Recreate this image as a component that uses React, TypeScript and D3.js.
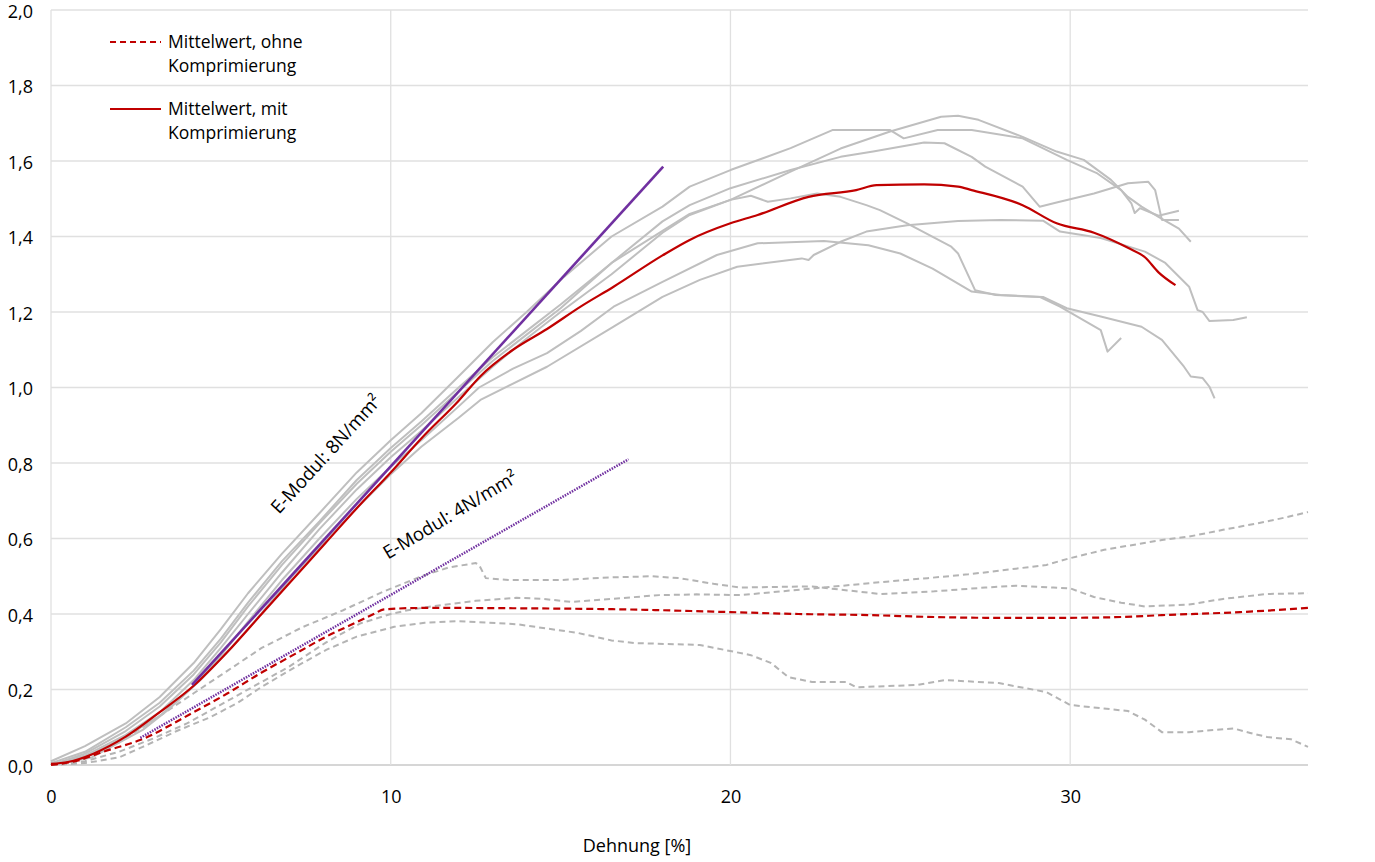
import React, { useLayoutEffect, useRef } from 'react';
import * as d3 from 'd3';

type Pt = [number, number];

// Einzelkurven, mit Komprimierung (grau, durchgezogen)
const mitA: Pt[] = [
  [0, 0.01], [1, 0.05], [2.2, 0.11], [3.2, 0.18], [4.2, 0.27], [5, 0.36], [5.8, 0.455],
  [6.8, 0.56], [7.9, 0.667], [9, 0.775], [10, 0.86], [10.9, 0.932], [12, 1.03], [13, 1.12],
  [14, 1.2], [15.1, 1.293], [16.5, 1.4], [18, 1.479], [18.8, 1.532], [20, 1.576],
  [21.77, 1.634], [23, 1.682], [24.7, 1.682], [25.1, 1.66], [26.1, 1.682], [27.1, 1.682],
  [28.6, 1.66], [29.9, 1.603], [30.8, 1.567], [31.5, 1.523], [31.8, 1.488], [31.9, 1.462],
  [32.05, 1.475], [32.6, 1.455], [33.2, 1.468],
];
const mitP: Pt[] = [
  [0, 0.005], [1, 0.035], [2.2, 0.1], [3.2, 0.165], [4.2, 0.25], [5, 0.335], [5.8, 0.43],
  [6.8, 0.54], [7.9, 0.645], [9, 0.755], [10, 0.84], [10.9, 0.91], [12, 1.0], [13, 1.08],
  [14, 1.15], [15, 1.22], [16.5, 1.33], [18, 1.415], [18.8, 1.46], [20, 1.497],
  [21.77, 1.572], [23.24, 1.633], [24.7, 1.678], [26.2, 1.717], [26.7, 1.72], [27.3, 1.709],
  [28.6, 1.664], [29.6, 1.625], [30.4, 1.603], [31.2, 1.55], [31.7, 1.505], [32.1, 1.479],
  [32.6, 1.452], [33.2, 1.421], [33.55, 1.386],
];
const mitQ: Pt[] = [
  [0, 0], [1, 0.03], [2.2, 0.09], [3.2, 0.155], [4.2, 0.24], [5, 0.325], [5.8, 0.42],
  [6.8, 0.53], [7.9, 0.64], [9, 0.745], [10, 0.83], [10.9, 0.9], [12, 0.99], [13, 1.07],
  [14, 1.14], [15, 1.21], [16.5, 1.33], [18, 1.44], [18.8, 1.483], [20, 1.528],
  [21.77, 1.576], [23.24, 1.611], [24.2, 1.625], [25.7, 1.649], [26.3, 1.647], [27.1, 1.611],
  [27.5, 1.585], [28.6, 1.532], [29.1, 1.479], [29.6, 1.49], [30.7, 1.514], [31.7, 1.541],
  [32.3, 1.545], [32.5, 1.523], [32.7, 1.444], [33.2, 1.444],
];
const mitR: Pt[] = [
  [0, 0], [1, 0.025], [2.2, 0.08], [3.2, 0.14], [4.2, 0.225], [5, 0.31], [5.8, 0.4],
  [6.8, 0.51], [7.9, 0.625], [9, 0.73], [10, 0.815], [10.9, 0.885], [12, 0.975], [13, 1.055],
  [14, 1.13], [15, 1.2], [16.5, 1.3], [18, 1.41], [18.8, 1.457], [20, 1.497], [20.6, 1.508],
  [21.1, 1.492], [21.77, 1.501], [22.55, 1.514], [23.24, 1.505], [24, 1.483], [24.4, 1.47],
  [25.2, 1.435], [26.5, 1.373], [26.7, 1.355], [27.2, 1.258], [27.8, 1.245], [29.1, 1.24],
  [29.7, 1.214], [30.9, 1.152], [31.1, 1.095], [31.5, 1.131],
];
const mitS: Pt[] = [
  [0, 0], [1, 0.02], [2.2, 0.075], [3.2, 0.13], [4.2, 0.21], [5, 0.29], [5.8, 0.38],
  [6.8, 0.49], [7.9, 0.6], [9, 0.705], [10, 0.79], [10.9, 0.86], [12, 0.95], [12.6, 1.0],
  [13.6, 1.05], [14.6, 1.091], [15.6, 1.15], [16.56, 1.214], [18, 1.28], [19.6, 1.351],
  [20.8, 1.382], [22.75, 1.388], [24.06, 1.377], [25, 1.355], [25.95, 1.315], [27.1, 1.254],
  [27.95, 1.245], [29.2, 1.24], [29.9, 1.21], [30.9, 1.188], [32.1, 1.161], [32.7, 1.126],
  [33.35, 1.055], [33.55, 1.029], [33.9, 1.025], [34.1, 1.002], [34.25, 0.971],
];
const mitT: Pt[] = [
  [0, 0], [1.2, 0.02], [2.7, 0.093], [3.5, 0.15], [4.4, 0.225], [5.3, 0.31], [6.2, 0.402],
  [7.1, 0.5], [8.1, 0.596], [9, 0.68], [10, 0.77], [10.9, 0.843], [12, 0.92], [12.64, 0.967],
  [14.6, 1.055], [16.56, 1.161], [18, 1.24], [19.1, 1.285], [20.2, 1.32], [22.1, 1.342],
  [22.3, 1.338], [22.45, 1.351], [23.24, 1.386], [24, 1.413], [25.2, 1.43], [26.7, 1.441],
  [27.95, 1.444], [29.2, 1.442], [29.7, 1.413], [30.9, 1.396], [32.2, 1.36], [32.8, 1.33],
  [33.5, 1.267], [33.75, 1.205], [33.9, 1.2], [34.1, 1.176], [34.8, 1.179], [35.2, 1.186],
];

// Einzelkurven, ohne Komprimierung (grau, gestrichelt)
const ohneA: Pt[] = [
  [0, 0], [1, 0.02], [2, 0.06], [3.2, 0.13], [4.2, 0.19], [5.2, 0.25], [6.2, 0.31],
  [7.4, 0.365], [8.6, 0.41], [9.8, 0.46], [10.9, 0.5], [11.7, 0.523], [12.5, 0.535],
  [12.6, 0.53], [12.8, 0.495], [13.5, 0.49], [15, 0.49], [16.5, 0.497], [17.7, 0.5],
  [18.5, 0.495], [19.5, 0.48], [20.3, 0.47], [21.5, 0.472], [22.4, 0.473], [23.2, 0.465],
  [24.4, 0.453], [26, 0.46], [27.5, 0.47], [28.4, 0.475], [29.5, 0.47], [30, 0.468],
  [30.7, 0.445], [31.5, 0.43], [32.2, 0.42], [33.5, 0.425], [34.5, 0.44], [35.8, 0.453],
  [37, 0.455],
];
const ohneB: Pt[] = [
  [0, 0], [1, 0.01], [2, 0.035], [3, 0.07], [4, 0.11], [5, 0.16], [6, 0.21], [7, 0.26],
  [8.1, 0.325], [9.1, 0.375], [10, 0.4], [10.5, 0.41], [11.2, 0.42], [12.5, 0.435],
  [13.7, 0.443], [14.5, 0.44], [15.3, 0.432], [16.5, 0.44], [17.9, 0.45], [19, 0.452],
  [20.3, 0.45], [21.5, 0.46], [23.2, 0.474], [24.5, 0.485], [25.8, 0.495], [27, 0.505],
  [28.4, 0.52], [29.3, 0.53], [30, 0.548], [31, 0.57], [32.7, 0.596], [33.5, 0.605],
  [34.5, 0.623], [35.5, 0.64], [36.3, 0.655], [37, 0.67],
];
const ohneC: Pt[] = [
  [0, 0], [1, 0.005], [2, 0.02], [2.7, 0.048], [3.7, 0.09], [4.7, 0.127], [5.5, 0.165],
  [6.2, 0.207], [7.2, 0.26], [8.1, 0.305], [9, 0.34], [10.1, 0.366], [11, 0.377], [12, 0.381],
  [13.7, 0.373], [15.5, 0.35], [16.5, 0.33], [17.2, 0.323], [19.1, 0.318], [20.6, 0.291],
  [21.2, 0.27], [21.7, 0.233], [22.4, 0.22], [23.4, 0.22], [23.7, 0.206], [25.5, 0.212],
  [26.3, 0.225], [27.9, 0.217], [29.3, 0.193], [30, 0.159], [31.7, 0.143], [32.2, 0.12],
  [32.7, 0.087], [33.5, 0.087], [34.8, 0.097], [35.3, 0.085], [35.8, 0.074], [36.5, 0.068],
  [37, 0.048],
];

// Mittelwerte
const meanMit: Pt[] = [
  [0, 0.003], [0.5, 0.008], [1.25, 0.03], [2.2, 0.075], [3.2, 0.14], [4.2, 0.21],
  [5.2, 0.3], [6.2, 0.4], [7.1, 0.49], [8.1, 0.59], [9, 0.68], [10, 0.775], [10.9, 0.865],
  [12, 0.965], [12.64, 1.03], [13.6, 1.1], [14.6, 1.155], [15.6, 1.215], [16.56, 1.267],
  [18, 1.35], [18.8, 1.391], [20, 1.435], [20.8, 1.457], [22.3, 1.505], [23.7, 1.523],
  [24.3, 1.536], [25.7, 1.538], [26.7, 1.532], [27.1, 1.523], [28.6, 1.483], [29.6, 1.435],
  [30.7, 1.41], [31.7, 1.37], [32.2, 1.345], [32.6, 1.305], [33.1, 1.271],
];
const meanOhne: Pt[] = [
  [0, 0], [0.8, 0.012], [1.53, 0.035], [2.62, 0.066], [4.2, 0.14], [5.2, 0.19],
  [6.2, 0.245], [7.2, 0.295], [8.1, 0.34], [8.8, 0.37], [9.5, 0.4], [9.8, 0.412],
  [10.9, 0.416], [12, 0.416], [14, 0.415], [17, 0.412], [20, 0.405], [22, 0.4],
  [24.1, 0.397], [26, 0.392], [27.5, 0.39], [30, 0.39], [31.5, 0.392], [32.7, 0.397],
  [35, 0.405], [37, 0.416],
];

// E-Modul-Geraden
const modul8: Pt[] = [[4.15, 0.212], [18.02, 1.585]];
const modul4: Pt[] = [[2.63, 0.072], [17.0, 0.81]];

const xTicks = [0, 10, 20, 30];
const yTicks = [0, 0.2, 0.4, 0.6, 0.8, 1.0, 1.2, 1.4, 1.6, 1.8, 2.0];

const W = 1375;
const H = 862;
const margin = { left: 51, right: 67, top: 10, bottom: 97 };
const FONT = "'Open Sans', 'Noto Sans', sans-serif";

const de = d3.formatLocale({
  decimal: ',',
  thousands: '.',
  grouping: [3],
  currency: ['', ' €'],
});

const drawChart = (node: SVGSVGElement) => {
  const svg = d3.select(node);
  svg.selectAll('*').remove();

  const x = d3
    .scaleLinear()
    .domain([0, 37])
    .range([margin.left, W - margin.right]);
  const y = d3
    .scaleLinear()
    .domain([0, 2])
    .range([H - margin.bottom, margin.top]);

  // Gitter
  const grid = svg.append('g').attr('class', 'grid');
  grid
    .selectAll('line.h')
    .data(yTicks)
    .enter()
    .append('line')
    .attr('x1', x(0))
    .attr('x2', x(37))
    .attr('y1', (d) => y(d))
    .attr('y2', (d) => y(d))
    .attr('stroke', (d) => (d === 0 ? '#c8c8c8' : '#e0e0e0'))
    .attr('stroke-width', (d) => (d === 0 ? 1.6 : 1.3));
  grid
    .selectAll('line.v')
    .data(xTicks)
    .enter()
    .append('line')
    .attr('x1', (d) => x(d))
    .attr('x2', (d) => x(d))
    .attr('y1', y(0))
    .attr('y2', y(2))
    .attr('stroke', '#e0e0e0')
    .attr('stroke-width', 1.3);

  // Achsen
  const yAxis = d3
    .axisLeft(y)
    .tickValues(yTicks)
    .tickSize(0)
    .tickPadding(18)
    .tickFormat((d) => de.format('.1f')(d as number));
  const xAxis = d3
    .axisBottom(x)
    .tickValues(xTicks)
    .tickSize(0)
    .tickPadding(25)
    .tickFormat((d) => String(d));

  const ya = svg
    .append('g')
    .attr('transform', `translate(${margin.left},0)`)
    .call(yAxis);
  const xa = svg
    .append('g')
    .attr('transform', `translate(0,${H - margin.bottom})`)
    .call(xAxis);
  [ya, xa].forEach((a) => {
    a.select('.domain').remove();
    a.selectAll('text')
      .attr('font-family', FONT)
      .attr('font-size', 18)
      .attr('fill', '#000');
  });
  // Beschriftung etwas tiefer, damit "2,0" nicht abgeschnitten wird
  ya.selectAll('text').attr('dy', '0.4em');

  svg
    .append('text')
    .attr('x', 637)
    .attr('y', 852)
    .attr('text-anchor', 'middle')
    .attr('font-family', FONT)
    .attr('font-size', 18)
    .text('Dehnung [%]');

  const line = d3
    .line<Pt>()
    .x((d) => x(d[0]))
    .y((d) => y(d[1]));

  const plot = svg.append('g').attr('fill', 'none');

  [ohneA, ohneB, ohneC].forEach((c) => {
    plot
      .append('path')
      .datum(c)
      .attr('d', line)
      .attr('stroke', '#b4b4b4')
      .attr('stroke-width', 2)
      .attr('stroke-dasharray', '6,4');
  });
  [mitA, mitP, mitQ, mitR, mitS, mitT].forEach((c) => {
    plot
      .append('path')
      .datum(c)
      .attr('d', line)
      .attr('stroke', '#bfbfbf')
      .attr('stroke-width', 2)
      .attr('stroke-linejoin', 'round');
  });

  plot
    .append('path')
    .datum(meanOhne)
    .attr('d', line.curve(d3.curveMonotoneX))
    .attr('stroke', '#c00000')
    .attr('stroke-width', 2.2)
    .attr('stroke-dasharray', '7,4');
  plot
    .append('path')
    .datum(meanMit)
    .attr('d', line.curve(d3.curveMonotoneX))
    .attr('stroke', '#c00000')
    .attr('stroke-width', 2.2);
  line.curve(d3.curveLinear);

  plot
    .append('path')
    .datum(modul8)
    .attr('d', line)
    .attr('stroke', '#7030a0')
    .attr('stroke-width', 2.6);
  plot
    .append('path')
    .datum(modul4)
    .attr('d', line)
    .attr('stroke', '#7030a0')
    .attr('stroke-width', 2.5)
    .attr('stroke-dasharray', '1.5,1.2');

  // Beschriftung der Geraden
  svg
    .append('text')
    .attr('transform', 'translate(327,455) rotate(-47.5)')
    .attr('text-anchor', 'middle')
    .attr('dominant-baseline', 'middle')
    .attr('font-family', FONT)
    .attr('font-size', 18.5)
    .text('E-Modul: 8N/mm²');
  svg
    .append('text')
    .attr('transform', 'translate(451,516) rotate(-31)')
    .attr('text-anchor', 'middle')
    .attr('dominant-baseline', 'middle')
    .attr('font-family', FONT)
    .attr('font-size', 18.5)
    .text('E-Modul: 4N/mm²');

  // Legende
  const legend = svg.append('g').attr('font-family', FONT).attr('font-size', 17.5);
  const items = [
    { dash: '6,4', lines: ['Mittelwert, ohne', 'Komprimierung'], y: 42 },
    { dash: null, lines: ['Mittelwert, mit', 'Komprimierung'], y: 109 },
  ];
  items.forEach((it) => {
    legend
      .append('line')
      .attr('x1', 110)
      .attr('x2', 161)
      .attr('y1', it.y)
      .attr('y2', it.y)
      .attr('stroke', '#c00000')
      .attr('stroke-width', 2)
      .attr('stroke-dasharray', it.dash);
    it.lines.forEach((t, i) => {
      legend
        .append('text')
        .attr('x', 168)
        .attr('y', it.y + 6 + i * 24)
        .text(t);
    });
  });
};

export default function App() {
  const ref = useRef<SVGSVGElement>(null);

  useLayoutEffect(() => {
    if (ref.current) drawChart(ref.current);
  }, []);

  return (
    <div style={{ position: 'absolute', left: 0, top: 0, background: '#fff' }}>
      <svg ref={ref} width={W} height={H} style={{ display: 'block' }} />
    </div>
  );
}
